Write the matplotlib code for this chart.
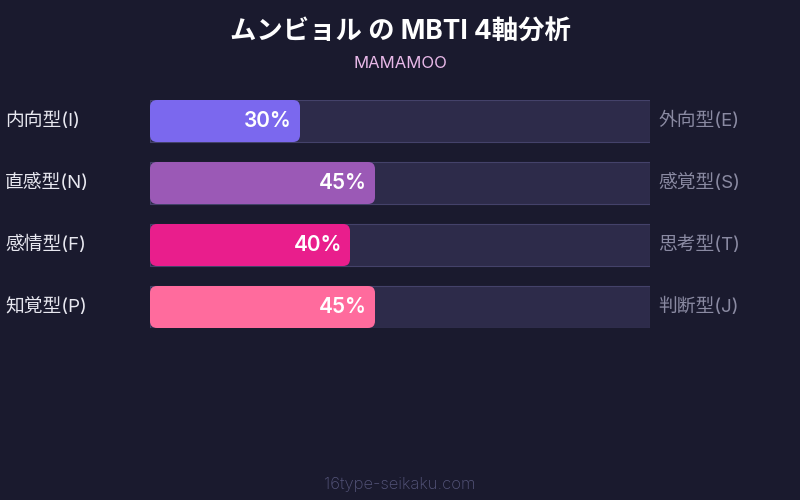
import matplotlib
matplotlib.use("Agg")
import matplotlib.pyplot as plt
from matplotlib.patches import FancyBboxPatch

plt.rcParams['font.family'] = ['Inter', 'Noto Sans CJK JP', 'DejaVu Sans']

title = 'ムンビョル の MBTI 4軸分析'
subtitle = 'MAMAMOO'
footer = '16type-seikaku.com'
left_labels = ['内向型(I)', '直感型(N)', '感情型(F)', '知覚型(P)']
right_labels = ['外向型(E)', '感覚型(S)', '思考型(T)', '判断型(J)']
values = [30, 45, 40, 45]
colors = ['#7b68ee', '#9b59b6', '#e91e8c', '#ff6b9d']

BG = '#1a1a2e'
TRACK = '#2d2b4a'
TRACK_EDGE = '#44426a'

W, H = 800, 500
fig = plt.figure(figsize=(8, 5), dpi=100, facecolor=BG)

# bar axes: x 150..650 px, y 100..328 px
ax = fig.add_axes([150 / W, 1 - 328 / H, 500 / W, 228 / H])
ax.set_xlim(0, 100)
bar_h = 42 / 62
ax.set_ylim(len(values) - 1 + bar_h / 2, -bar_h / 2)
ax.axis('off')

aspect = (1 / 62) / (1 / 5)
for i, (v, c) in enumerate(zip(values, colors)):
    ax.barh(i, 100, height=bar_h, color=TRACK, edgecolor=TRACK_EDGE, linewidth=0.8)
    ax.add_patch(FancyBboxPatch((0, i - bar_h / 2), v, bar_h,
                                boxstyle='round,pad=0,rounding_size=1.4',
                                mutation_aspect=aspect, facecolor=c, edgecolor='none'))
    ax.text(v - 1.6, i, f'{v}%', ha='right', va='center', color='white',
            fontsize=15, fontweight='semibold')
    ax.text(-29, i, left_labels[i], ha='left', va='center', color='#e8e8f0', fontsize=13.5)
    ax.text(101.6, i, right_labels[i], ha='left', va='center', color='#8a8aa2', fontsize=13.5)

fig.text(0.5, 1 - 33 / H, title, ha='center', va='center', color='white',
         fontsize=19, fontweight='bold')
fig.text(0.5, 1 - 64 / H, subtitle, ha='center', va='center', color='#e8b8e8', fontsize=12)
fig.text(0.5, 1 - 484 / H, footer, ha='center', va='center', color='#55557a',
         fontsize=12, fontweight='light')

fig.savefig('out.png', dpi=100, facecolor=BG)
